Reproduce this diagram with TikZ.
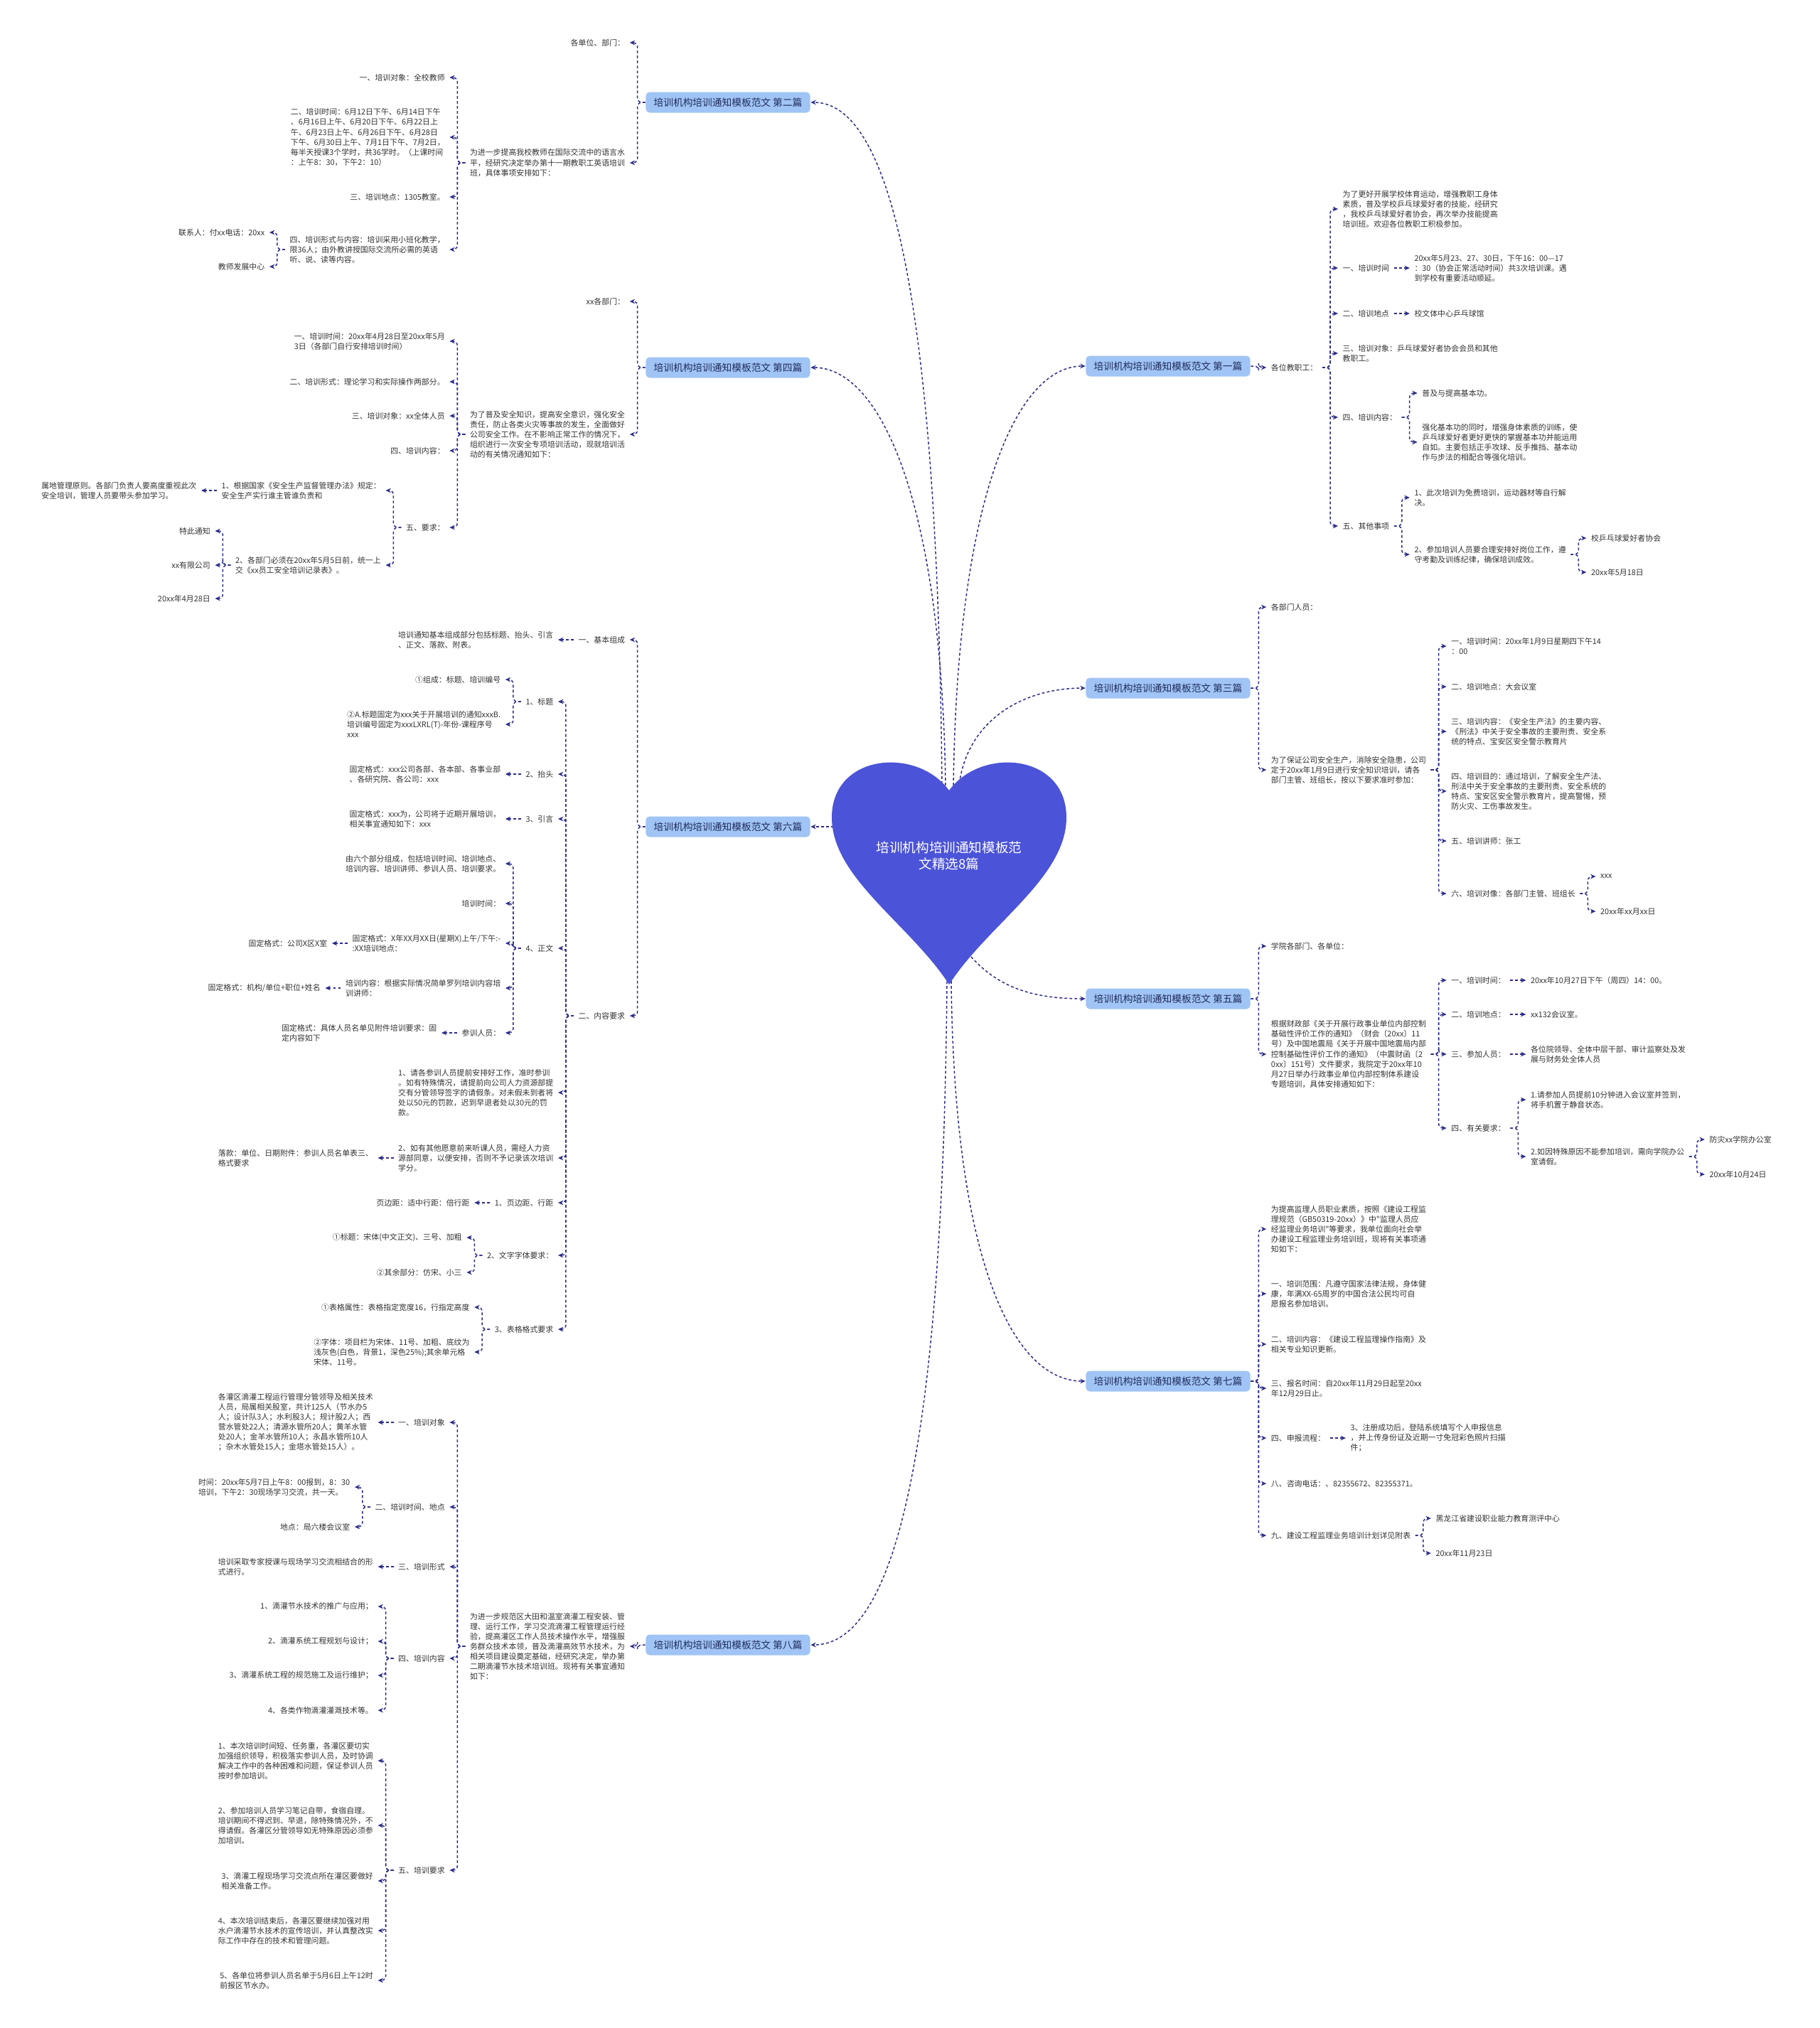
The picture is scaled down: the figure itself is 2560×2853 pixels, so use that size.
\documentclass[tikz,border=0pt]{standalone}
\usepackage{fontspec}
\usepackage{tikz}
\usetikzlibrary{arrows.meta, calc}
\newfontfamily\cjkfont{Noto Sans CJK SC}
\definecolor{heartblue}{HTML}{4B53D8}
\definecolor{boxblue}{HTML}{A0C4F5}
\definecolor{boxtext}{HTML}{1F2D5C}
\definecolor{linkblue}{HTML}{2C2C8C}
\definecolor{textgray}{HTML}{333333}

\begin{document}
\begin{tikzpicture}[x=0.01cm, y=-0.01cm,
  txt/.style={font=\cjkfont\fontsize{3.1}{4}\selectfont, text=textgray, align=left, inner xsep=1.7pt, inner ysep=0.8pt},
  lnode/.style={txt, anchor=east},
  rnode/.style={txt, anchor=west},
  branch/.style={fill=boxblue, rounded corners=1.5pt, font=\cjkfont\fontsize{3.9}{4.6}\selectfont, text=boxtext,
                 minimum width=2.31cm, minimum height=0.29cm, inner sep=0pt},
  rootlabel/.style={font=\cjkfont\fontsize{5.3}{6.6}\selectfont, text=white, align=center},
  link/.style={draw=linkblue, line width=0.42pt, dash pattern=on 1.1pt off 0.9pt, rounded corners=1.7pt,
               -{Stealth[length=2.1pt, width=1.9pt]}}
]
  \fill[white] (0,0) rectangle (2560,2853);

  % branch boxes
  \node[branch] (s2) at (1024,144)  {培训机构培训通知模板范文 第二篇};
  \node[branch] (s4) at (1024,517)  {培训机构培训通知模板范文 第四篇};
  \node[branch] (s6) at (1024,1163) {培训机构培训通知模板范文 第六篇};
  \node[branch] (s8) at (1024,2314) {培训机构培训通知模板范文 第八篇};
  \node[branch] (s1) at (1643,515)  {培训机构培训通知模板范文 第一篇};
  \node[branch] (s3) at (1643,968)  {培训机构培训通知模板范文 第三篇};
  \node[branch] (s5) at (1643,1405) {培训机构培训通知模板范文 第五篇};
  \node[branch] (s7) at (1643,1943) {培训机构培训通知模板范文 第七篇};

  % heart and its links
  \coordinate (h2) at (1325,1110);
  \coordinate (h4) at (1330,1112);
  \coordinate (h1) at (1341,1112);
  \coordinate (h3) at (1348,1116);
  \coordinate (h6) at (1173,1163);
  \coordinate (h5) at (1366,1346);
  \coordinate (h7) at (1338,1380);
  \coordinate (h8) at (1332,1380);
  \draw[link] (h2) .. controls +(-6,-700) and +(110,0) .. (s2.east);
  \draw[link] (h4) .. controls +(-4,-400) and +(100,0) .. (s4.east);
  \draw[link] (h1) .. controls +(4,-400) and +(-100,0) .. (s1.west);
  \draw[link] (h3) .. controls +(6,-100) and +(-90,0) .. (s3.west);
  \draw[link] (h6) -- (s6.east);
  \draw[link] (h5) .. controls +(40,45) and +(-70,0) .. (s5.west);
  \draw[link] (h7) .. controls +(4,400) and +(-100,0) .. (s7.west);
  \draw[link] (h8) .. controls +(-6,700) and +(110,0) .. (s8.east);
  \fill[heartblue] (1335,1112) .. controls (1290,1050) and (1170,1060) .. (1170,1150)
    .. controls (1170,1235) and (1280,1300) .. (1335,1385)
    .. controls (1390,1300) and (1500,1235) .. (1500,1150)
    .. controls (1500,1060) and (1380,1050) .. (1335,1112) -- cycle;
  \node[rootlabel] (root) at (1335,1204) {培训机构培训通知模板范\\文精选8篇};

  % 第二篇
  \node[lnode] (s2a) at ([shift={(-22,-84)}]s2.west) {各单位、部门：};
  \node[lnode] (s2b) at ([shift={(-22,85)}]s2.west) {为进一步提高我校教师在国际交流中的语言水\\平，经研究决定举办第十一期教职工英语培训\\班，具体事项安排如下：};
  \node[lnode] (s2c) at ([shift={(-22,-120)}]s2b.west) {一、培训对象：全校教师};
  \node[lnode] (s2d) at ([shift={(-22,-36)}]s2b.west) {二、培训时间：6月12日下午、6月14日下午\\、6月16日上午、6月20日下午、6月22日上\\午、6月23日上午、6月26日下午、6月28日\\下午、6月30日上午、7月1日下午、7月2日，\\每半天授课3个学时，共36学时。（上课时间\\：上午8：30，下午2：10）};
  \node[lnode] (s2e) at ([shift={(-22,48)}]s2b.west) {三、培训地点：1305教室。};
  \node[lnode] (s2f) at ([shift={(-22,122)}]s2b.west) {四、培训形式与内容：培训采用小班化教学，\\限36人；由外教讲授国际交流所必需的英语\\听、说、读等内容。};
  \node[lnode] (s2g) at ([shift={(-22,-24)}]s2f.west) {联系人：付xx电话：20xx};
  \node[lnode] (s2h) at ([shift={(-22,24)}]s2f.west) {教师发展中心};
  \foreach \c in {s2a,s2b} \draw[link] (s2.west) -- ++(-11,0) |- (\c.east);
  \foreach \c in {s2c,s2d,s2e,s2f} \draw[link] (s2b.west) -- ++(-11,0) |- (\c.east);
  \foreach \c in {s2g,s2h} \draw[link] (s2f.west) -- ++(-11,0) |- (\c.east);

  % 第四篇
  \node[lnode] (s4a) at ([shift={(-22,-93)}]s4.west) {xx各部门：};
  \node[lnode] (s4b) at ([shift={(-22,94)}]s4.west) {为了普及安全知识，提高安全意识，强化安全\\责任，防止各类火灾等事故的发生，全面做好\\公司安全工作。在不影响正常工作的情况下，\\组织进行一次安全专项培训活动，现就培训活\\动的有关情况通知如下：};
  \node[lnode] (s4c) at ([shift={(-22,-131)}]s4b.west) {一、培训时间：20xx年4月28日至20xx年5月\\3日（各部门自行安排培训时间）};
  \node[lnode] (s4d) at ([shift={(-22,-74)}]s4b.west) {二、培训形式：理论学习和实际操作两部分。};
  \node[lnode] (s4e) at ([shift={(-22,-26)}]s4b.west) {三、培训对象：xx全体人员};
  \node[lnode] (s4f) at ([shift={(-22,23)}]s4b.west) {四、培训内容：};
  \node[lnode] (s4g) at ([shift={(-22,131)}]s4b.west) {五、要求：};
  \node[lnode] (s4h) at ([shift={(-22,-52)}]s4g.west) {1、根据国家《安全生产监督管理办法》规定：\\安全生产实行谁主管谁负责和};
  \node[lnode] (s4i) at ([shift={(-22,53)}]s4g.west) {2、各部门必须在20xx年5月5日前，统一上\\交《xx员工安全培训记录表》。};
  \node[lnode] (s4j) at ([shift={(-22,0)}]s4h.west) {属地管理原则。各部门负责人要高度重视此次\\安全培训，管理人员要带头参加学习。};
  \node[lnode] (s4k) at ([shift={(-22,-48)}]s4i.west) {特此通知};
  \node[lnode] (s4l) at ([shift={(-22,0)}]s4i.west) {xx有限公司};
  \node[lnode] (s4m) at ([shift={(-22,47)}]s4i.west) {20xx年4月28日};
  \foreach \c in {s4a,s4b} \draw[link] (s4.west) -- ++(-11,0) |- (\c.east);
  \foreach \c in {s4c,s4d,s4e,s4f,s4g} \draw[link] (s4b.west) -- ++(-11,0) |- (\c.east);
  \foreach \c in {s4h,s4i} \draw[link] (s4g.west) -- ++(-11,0) |- (\c.east);
  \draw[link] (s4h.west) -- (s4j.east);
  \foreach \c in {s4k,s4l,s4m} \draw[link] (s4i.west) -- ++(-11,0) |- (\c.east);

  % 第六篇
  \node[lnode] (s6a) at ([shift={(-22,-263)}]s6.west) {一、基本组成};
  \node[lnode] (s6b) at ([shift={(-22,266)}]s6.west) {二、内容要求};
  \node[lnode] (s6c) at ([shift={(-22,0)}]s6a.west) {培训通知基本组成部分包括标题、抬头、引言\\、正文、落款、附表。};
  \node[lnode] (s6d) at ([shift={(-22,-442)}]s6b.west) {1、标题};
  \node[lnode] (s6e) at ([shift={(-22,-340)}]s6b.west) {2、抬头};
  \node[lnode] (s6f) at ([shift={(-22,-277)}]s6b.west) {3、引言};
  \node[lnode] (s6g) at ([shift={(-22,-95)}]s6b.west) {4、正文};
  \node[lnode] (s6h) at ([shift={(-22,108)}]s6b.west) {1、请各参训人员提前安排好工作，准时参训\\。如有特殊情况，请提前向公司人力资源部提\\交有分管领导签字的请假条。对未假未到者将\\处以50元的罚款，迟到早退者处以30元的罚\\款。};
  \node[lnode] (s6i) at ([shift={(-22,200)}]s6b.west) {2、如有其他愿意前来听课人员，需经人力资\\源部同意，以便安排，否则不予记录该次培训\\学分。};
  \node[lnode] (s6j) at ([shift={(-22,263)}]s6b.west) {1、页边距、行距};
  \node[lnode] (s6k) at ([shift={(-22,337)}]s6b.west) {2、文字字体要求：};
  \node[lnode] (s6l) at ([shift={(-22,441)}]s6b.west) {3、表格格式要求};
  \node[lnode] (s6m) at ([shift={(-22,-31)}]s6d.west) {①组成：标题、培训编号};
  \node[lnode] (s6n) at ([shift={(-22,32)}]s6d.west) {②A.标题固定为xxx关于开展培训的通知xxxB.\\培训编号固定为xxxLXRL(T)-年份-课程序号\\xxx};
  \node[lnode] (s6o) at ([shift={(-22,0)}]s6e.west) {固定格式：xxx公司各部、各本部、各事业部\\、各研究院、各公司：xxx};
  \node[lnode] (s6p) at ([shift={(-22,0)}]s6f.west) {固定格式：xxx为，公司将于近期开展培训，\\相关事宜通知如下：xxx};
  \node[lnode] (s6q) at ([shift={(-22,-119)}]s6g.west) {由六个部分组成，包括培训时间、培训地点、\\培训内容、培训讲师、参训人员、培训要求。};
  \node[lnode] (s6r) at ([shift={(-22,-63)}]s6g.west) {培训时间：};
  \node[lnode] (s6s) at ([shift={(-22,-7)}]s6g.west) {固定格式：X年XX月XX日(星期X)上午/下午:-\\:XX培训地点：};
  \node[lnode] (s6t) at ([shift={(-22,56)}]s6g.west) {培训内容：根据实际情况简单罗列培训内容培\\训讲师：};
  \node[lnode] (s6u) at ([shift={(-22,119)}]s6g.west) {参训人员：};
  \node[lnode] (s6v) at ([shift={(-22,0)}]s6s.west) {固定格式：公司X区X室};
  \node[lnode] (s6w) at ([shift={(-22,0)}]s6t.west) {固定格式：机构/单位+职位+姓名};
  \node[lnode] (s6x) at ([shift={(-22,0)}]s6u.west) {固定格式：具体人员名单见附件培训要求：固\\定内容如下};
  \node[lnode] (s6y) at ([shift={(-22,0)}]s6i.west) {落款：单位、日期附件：参训人员名单表三、\\格式要求};
  \node[lnode] (s6z) at ([shift={(-22,0)}]s6j.west) {页边距：适中行距：倍行距};
  \node[lnode] (s6ka) at ([shift={(-22,-25)}]s6k.west) {①标题：宋体(中文正文)、三号、加粗};
  \node[lnode] (s6kb) at ([shift={(-22,24)}]s6k.west) {②其余部分：仿宋、小三};
  \node[lnode] (s6la) at ([shift={(-22,-31)}]s6l.west) {①表格属性：表格指定宽度16，行指定高度};
  \node[lnode] (s6lb) at ([shift={(-22,32)}]s6l.west) {②字体：项目栏为宋体、11号、加粗、底纹为\\浅灰色(白色，背景1，深色25\%);其余单元格\\宋体、11号。};
  \foreach \c in {s6a,s6b} \draw[link] (s6.west) -- ++(-11,0) |- (\c.east);
  \draw[link] (s6a.west) -- (s6c.east);
  \foreach \c in {s6d,s6e,s6f,s6g,s6h,s6i,s6j,s6k,s6l} \draw[link] (s6b.west) -- ++(-11,0) |- (\c.east);
  \foreach \c in {s6m,s6n} \draw[link] (s6d.west) -- ++(-11,0) |- (\c.east);
  \draw[link] (s6e.west) -- (s6o.east);
  \draw[link] (s6f.west) -- (s6p.east);
  \foreach \c in {s6q,s6r,s6s,s6t,s6u} \draw[link] (s6g.west) -- ++(-11,0) |- (\c.east);
  \draw[link] (s6s.west) -- (s6v.east);
  \draw[link] (s6t.west) -- (s6w.east);
  \draw[link] (s6u.west) -- (s6x.east);
  \draw[link] (s6i.west) -- (s6y.east);
  \draw[link] (s6j.west) -- (s6z.east);
  \foreach \c in {s6ka,s6kb} \draw[link] (s6k.west) -- ++(-11,0) |- (\c.east);
  \foreach \c in {s6la,s6lb} \draw[link] (s6l.west) -- ++(-11,0) |- (\c.east);

  % 第八篇
  \node[lnode] (s8a) at ([shift={(-22,2)}]s8.west) {为进一步规范区大田和温室滴灌工程安装、管\\理、运行工作，学习交流滴灌工程管理运行经\\验，提高灌区工作人员技术操作水平，增强服\\务群众技术本领，普及滴灌高效节水技术，为\\相关项目建设奠定基础，经研究决定，举办第\\二期滴灌节水技术培训班。现将有关事宜通知\\如下：};
  \node[lnode] (s8b) at ([shift={(-22,-315)}]s8a.west) {一、培训对象};
  \node[lnode] (s8c) at ([shift={(-22,-196)}]s8a.west) {二、培训时间、地点};
  \node[lnode] (s8d) at ([shift={(-22,-112)}]s8a.west) {三、培训形式};
  \node[lnode] (s8e) at ([shift={(-22,17)}]s8a.west) {四、培训内容};
  \node[lnode] (s8f) at ([shift={(-22,315)}]s8a.west) {五、培训要求};
  \node[lnode] (s8g) at ([shift={(-22,0)}]s8b.west) {各灌区滴灌工程运行管理分管领导及相关技术\\人员，局属相关股室，共计125人（节水办5\\人；设计队3人；水利股3人；规计股2人；西\\营水管处22人；清源水管所20人；黄羊水管\\处20人；金羊水管所10人；永昌水管所10人\\；杂木水管处15人；金塔水管处15人）。};
  \node[lnode] (s8h) at ([shift={(-22,-28)}]s8c.west) {时间：20xx年5月7日上午8：00报到，8：30\\培训，下午2：30现场学习交流，共一天。};
  \node[lnode] (s8i) at ([shift={(-22,28)}]s8c.west) {地点：局六楼会议室};
  \node[lnode] (s8j) at ([shift={(-22,0)}]s8d.west) {培训采取专家授课与现场学习交流相结合的形\\式进行。};
  \node[lnode] (s8k) at ([shift={(-22,-73)}]s8e.west) {1、滴灌节水技术的推广与应用；};
  \node[lnode] (s8l) at ([shift={(-22,-24)}]s8e.west) {2、滴灌系统工程规划与设计；};
  \node[lnode] (s8m) at ([shift={(-22,24)}]s8e.west) {3、滴灌系统工程的规范施工及运行维护；};
  \node[lnode] (s8n) at ([shift={(-22,73)}]s8e.west) {4、各类作物滴灌灌溉技术等。};
  \node[lnode] (s8o) at ([shift={(-22,-154)}]s8f.west) {1、本次培训时间短、任务重，各灌区要切实\\加强组织领导，积极落实参训人员，及时协调\\解决工作中的各种困难和问题，保证参训人员\\按时参加培训。};
  \node[lnode] (s8p) at ([shift={(-22,-63)}]s8f.west) {2、参加培训人员学习笔记自带，食宿自理。\\培训期间不得迟到、早退，除特殊情况外，不\\得请假。各灌区分管领导如无特殊原因必须参\\加培训。};
  \node[lnode] (s8q) at ([shift={(-22,15)}]s8f.west) {3、滴灌工程现场学习交流点所在灌区要做好\\相关准备工作。};
  \node[lnode] (s8r) at ([shift={(-22,85)}]s8f.west) {4、本次培训结束后，各灌区要继续加强对用\\水户滴灌节水技术的宣传培训，并认真整改实\\际工作中存在的技术和管理问题。};
  \node[lnode] (s8s) at ([shift={(-22,155)}]s8f.west) {5、各单位将参训人员名单于5月6日上午12时\\前报区节水办。};
  \draw[link] (s8.west) -- ++(-11,0) |- (s8a.east);
  \foreach \c in {s8b,s8c,s8d,s8e,s8f} \draw[link] (s8a.west) -- ++(-11,0) |- (\c.east);
  \draw[link] (s8b.west) -- (s8g.east);
  \foreach \c in {s8h,s8i} \draw[link] (s8c.west) -- ++(-11,0) |- (\c.east);
  \draw[link] (s8d.west) -- (s8j.east);
  \foreach \c in {s8k,s8l,s8m,s8n} \draw[link] (s8e.west) -- ++(-11,0) |- (\c.east);
  \foreach \c in {s8o,s8p,s8q,s8r,s8s} \draw[link] (s8f.west) -- ++(-11,0) |- (\c.east);

  % 第一篇
  \node[rnode] (s1a) at ([shift={(22,2)}]s1.east) {各位教职工：};
  \node[rnode] (s1b) at ([shift={(22,-223)}]s1a.east) {为了更好开展学校体育运动，增强教职工身体\\素质，普及学校乒乓球爱好者的技能，经研究\\，我校乒乓球爱好者协会，再次举办技能提高\\培训班。欢迎各位教职工积极参加。};
  \node[rnode] (s1c) at ([shift={(22,-140)}]s1a.east) {一、培训时间};
  \node[rnode] (s1d) at ([shift={(22,-76)}]s1a.east) {二、培训地点};
  \node[rnode] (s1e) at ([shift={(22,-20)}]s1a.east) {三、培训对象：乒乓球爱好者协会会员和其他\\教职工。};
  \node[rnode] (s1f) at ([shift={(22,70)}]s1a.east) {四、培训内容：};
  \node[rnode] (s1g) at ([shift={(22,223)}]s1a.east) {五、其他事项};
  \node[rnode] (s1h) at ([shift={(22,0)}]s1c.east) {20xx年5月23、27、30日，下午16：00—17\\：30（协会正常活动时间）共3次培训课。遇\\到学校有重要活动顺延。};
  \node[rnode] (s1i) at ([shift={(22,0)}]s1d.east) {校文体中心乒乓球馆};
  \node[rnode] (s1j) at ([shift={(22,-34)}]s1f.east) {普及与提高基本功。};
  \node[rnode] (s1k) at ([shift={(22,35)}]s1f.east) {强化基本功的同时，增强身体素质的训练，使\\乒乓球爱好者更好更快的掌握基本功并能运用\\自如。主要包括正手攻球、反手推挡、基本动\\作与步法的相配合等强化培训。};
  \node[rnode] (s1l) at ([shift={(22,-40)}]s1g.east) {1、此次培训为免费培训，运动器材等自行解\\决。};
  \node[rnode] (s1m) at ([shift={(22,40)}]s1g.east) {2、参加培训人员要合理安排好岗位工作，遵\\守考勤及训练纪律，确保培训成效。};
  \node[rnode] (s1n) at ([shift={(22,-23)}]s1m.east) {校乒乓球爱好者协会};
  \node[rnode] (s1o) at ([shift={(22,25)}]s1m.east) {20xx年5月18日};
  \draw[link] (s1.east) -- ++(11,0) |- (s1a.west);
  \foreach \c in {s1b,s1c,s1d,s1e,s1f,s1g} \draw[link] (s1a.east) -- ++(11,0) |- (\c.west);
  \draw[link] (s1c.east) -- (s1h.west);
  \draw[link] (s1d.east) -- (s1i.west);
  \foreach \c in {s1j,s1k} \draw[link] (s1f.east) -- ++(11,0) |- (\c.west);
  \foreach \c in {s1l,s1m} \draw[link] (s1g.east) -- ++(11,0) |- (\c.west);
  \foreach \c in {s1n,s1o} \draw[link] (s1m.east) -- ++(11,0) |- (\c.west);

  % 第三篇
  \node[rnode] (s3a) at ([shift={(22,-114)}]s3.east) {各部门人员：};
  \node[rnode] (s3b) at ([shift={(22,115)}]s3.east) {为了保证公司安全生产，消除安全隐患，公司\\定于20xx年1月9日进行安全知识培训，请各\\部门主管、班组长，按以下要求准时参加：};
  \node[rnode] (s3c) at ([shift={(22,-174)}]s3b.east) {一、培训时间：20xx年1月9日星期四下午14\\：00};
  \node[rnode] (s3d) at ([shift={(22,-117)}]s3b.east) {二、培训地点：大会议室};
  \node[rnode] (s3e) at ([shift={(22,-54)}]s3b.east) {三、培训内容：《安全生产法》的主要内容、\\《刑法》中关于安全事故的主要刑责、安全系\\统的特点、宝安区安全警示教育片};
  \node[rnode] (s3f) at ([shift={(22,30)}]s3b.east) {四、培训目的：通过培训，了解安全生产法、\\刑法中关于安全事故的主要刑责、安全系统的\\特点、宝安区安全警示教育片，提高警惕，预\\防火灾、工伤事故发生。};
  \node[rnode] (s3g) at ([shift={(22,100)}]s3b.east) {五、培训讲师：张工};
  \node[rnode] (s3h) at ([shift={(22,174)}]s3b.east) {六、培训对像：各部门主管、班组长};
  \node[rnode] (s3i) at ([shift={(22,-24)}]s3h.east) {xxx};
  \node[rnode] (s3j) at ([shift={(22,25)}]s3h.east) {20xx年xx月xx日};
  \foreach \c in {s3a,s3b} \draw[link] (s3.east) -- ++(11,0) |- (\c.west);
  \foreach \c in {s3c,s3d,s3e,s3f,s3g,s3h} \draw[link] (s3b.east) -- ++(11,0) |- (\c.west);
  \foreach \c in {s3i,s3j} \draw[link] (s3h.east) -- ++(11,0) |- (\c.west);

  % 第五篇
  \node[rnode] (s5a) at ([shift={(22,-74)}]s5.east) {学院各部门、各单位：};
  \node[rnode] (s5b) at ([shift={(22,78)}]s5.east) {根据财政部《关于开展行政事业单位内部控制\\基础性评价工作的通知》（财会〔20xx〕11\\号）及中国地震局《关于开展中国地震局内部\\控制基础性评价工作的通知》（中震财函〔2\\0xx〕151号）文件要求，我院定于20xx年10\\月27日举办行政事业单位内部控制体系建设\\专题培训，具体安排通知如下：};
  \node[rnode] (s5c) at ([shift={(22,-104)}]s5b.east) {一、培训时间：};
  \node[rnode] (s5d) at ([shift={(22,-56)}]s5b.east) {二、培训地点：};
  \node[rnode] (s5e) at ([shift={(22,0)}]s5b.east) {三、参加人员：};
  \node[rnode] (s5f) at ([shift={(22,104)}]s5b.east) {四、有关要求：};
  \node[rnode] (s5g) at ([shift={(22,0)}]s5c.east) {20xx年10月27日下午（周四）14：00。};
  \node[rnode] (s5h) at ([shift={(22,0)}]s5d.east) {xx132会议室。};
  \node[rnode] (s5i) at ([shift={(22,0)}]s5e.east) {各位院领导、全体中层干部、审计监察处及发\\展与财务处全体人员};
  \node[rnode] (s5j) at ([shift={(22,-40)}]s5f.east) {1.请参加人员提前10分钟进入会议室并签到，\\将手机置于静音状态。};
  \node[rnode] (s5k) at ([shift={(22,40)}]s5f.east) {2.如因特殊原因不能参加培训，需向学院办公\\室请假。};
  \node[rnode] (s5l) at ([shift={(22,-24)}]s5k.east) {防灾xx学院办公室};
  \node[rnode] (s5m) at ([shift={(22,25)}]s5k.east) {20xx年10月24日};
  \foreach \c in {s5a,s5b} \draw[link] (s5.east) -- ++(11,0) |- (\c.west);
  \foreach \c in {s5c,s5d,s5e,s5f} \draw[link] (s5b.east) -- ++(11,0) |- (\c.west);
  \draw[link] (s5c.east) -- (s5g.west);
  \draw[link] (s5d.east) -- (s5h.west);
  \draw[link] (s5e.east) -- (s5i.west);
  \foreach \c in {s5j,s5k} \draw[link] (s5f.east) -- ++(11,0) |- (\c.west);
  \foreach \c in {s5l,s5m} \draw[link] (s5k.east) -- ++(11,0) |- (\c.west);

  % 第七篇
  \node[rnode] (s7a) at ([shift={(22,-214)}]s7.east) {为提高监理人员职业素质，按照《建设工程监\\理规范（GB50319-20xx）》中"监理人员应\\经监理业务培训"等要求，我单位面向社会举\\办建设工程监理业务培训班，现将有关事项通\\知如下：};
  \node[rnode] (s7b) at ([shift={(22,-123)}]s7.east) {一、培训范围：凡遵守国家法律法规，身体健\\康，年满XX-65周岁的中国合法公民均可自\\愿报名参加培训。};
  \node[rnode] (s7c) at ([shift={(22,-52)}]s7.east) {二、培训内容：《建设工程监理操作指南》及\\相关专业知识更新。};
  \node[rnode] (s7d) at ([shift={(22,10)}]s7.east) {三、报名时间：自20xx年11月29日起至20xx\\年12月29日止。};
  \node[rnode] (s7e) at ([shift={(22,80)}]s7.east) {四、申报流程：};
  \node[rnode] (s7f) at ([shift={(22,144)}]s7.east) {八、咨询电话：、82355672、82355371。};
  \node[rnode] (s7g) at ([shift={(22,217)}]s7.east) {九、建设工程监理业务培训计划详见附表};
  \node[rnode] (s7h) at ([shift={(22,0)}]s7e.east) {3、注册成功后，登陆系统填写个人申报信息\\，并上传身份证及近期一寸免冠彩色照片扫描\\件；};
  \node[rnode] (s7i) at ([shift={(22,-24)}]s7g.east) {黑龙江省建设职业能力教育测评中心};
  \node[rnode] (s7j) at ([shift={(22,25)}]s7g.east) {20xx年11月23日};
  \foreach \c in {s7a,s7b,s7c,s7d,s7e,s7f,s7g} \draw[link] (s7.east) -- ++(11,0) |- (\c.west);
  \draw[link] (s7e.east) -- (s7h.west);
  \foreach \c in {s7i,s7j} \draw[link] (s7g.east) -- ++(11,0) |- (\c.west);
\end{tikzpicture}
\end{document}
